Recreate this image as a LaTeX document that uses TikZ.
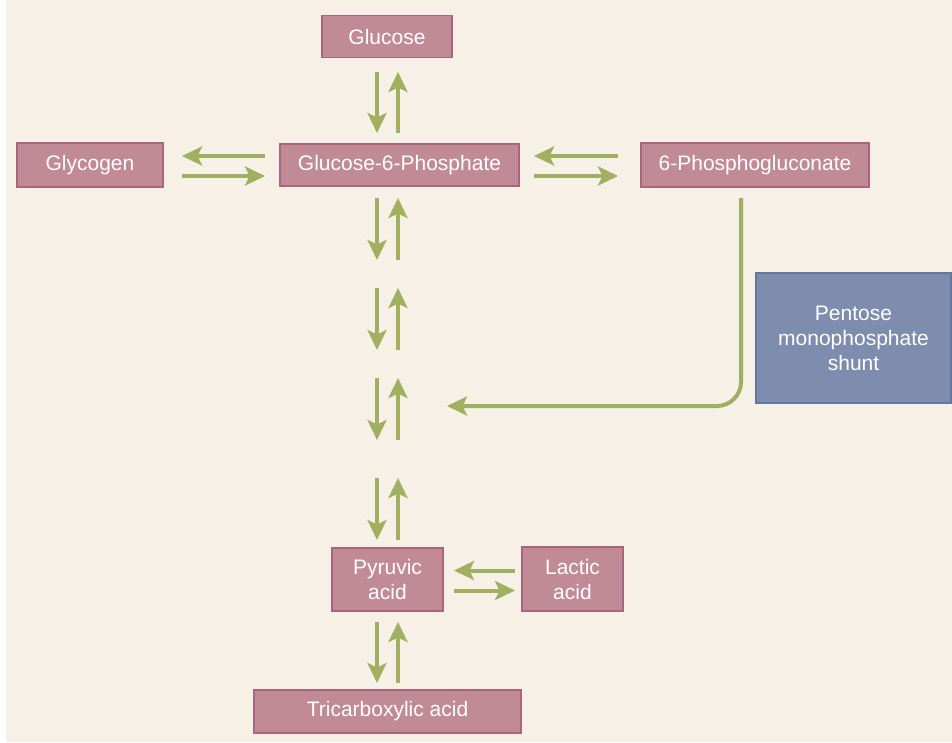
\documentclass[tikz,border=0pt]{standalone}
\usepackage{fontspec}
\setmainfont{Liberation Sans}
\usepackage{tikz}
\usetikzlibrary{arrows.meta, positioning, calc}
\definecolor{paper}{RGB}{246, 240, 230}
\definecolor{boxfill}{RGB}{192, 139, 151}
\definecolor{boxline}{RGB}{172, 100, 124}
\definecolor{shuntfill}{RGB}{126, 141, 173}
\definecolor{shuntline}{RGB}{98, 118, 158}
\definecolor{flowgreen}{RGB}{161, 175, 96}

% pair of opposite arrows, top/bottom and left/right
\newcommand{\vpair}[2]{%
  \draw[flow] ([xshift=-10.5pt]#1) -- ([xshift=-10.5pt]#2);
  \draw[flow] ([xshift=10.5pt]#2) -- ([xshift=10.5pt]#1);}
\newcommand{\hpair}[2]{%
  \draw[flow] ([yshift=10pt]#2) -- ([yshift=10pt]#1);
  \draw[flow] ([yshift=-10pt]#1) -- ([yshift=-10pt]#2);}

\begin{document}
\begin{tikzpicture}[
    x=1pt, y=-1pt,
    box/.style={rectangle, draw=boxline, fill=boxfill, line width=1.5pt, text=white, minimum height=42pt, inner sep=0pt, align=center, font=\fontsize{21}{25}\selectfont},
    shuntbox/.style={box, draw=shuntline, fill=shuntfill, minimum width=195pt, minimum height=130pt},
    flow/.style={draw=flowgreen, line width=4pt, -{Stealth[length=20pt, width=19pt, inset=4.5pt]}}
]
\useasboundingbox (0,0) rectangle (952,742);
\fill[white] (0,0) rectangle (952,742);
\fill[paper] (6,0) rectangle (952,742);

% Boxes
\node[box, minimum width=130pt] (glucose) at (387,36.5) {Glucose};
\node[box, minimum width=239pt] (g6p) at (399.5,165) {Glucose-6-Phosphate};
\node[box, minimum width=146pt, minimum height=44pt] (glycogen) at (90,165) {Glycogen};
\node[box, minimum width=228pt, minimum height=44pt] (pgluc) at (755,165) {6-Phosphogluconate};
\node[shuntbox] (shunt) at (853.5,338) {Pentose\\monophosphate\\shunt};
\node[box, minimum width=111pt, minimum height=63pt] (pyruvic) at (387.5,579.5) {Pyruvic\\acid};
\node[box, minimum width=101pt, minimum height=64pt] (lactic) at (572.5,579) {Lactic\\acid};
\node[box, minimum width=267pt, minimum height=43pt] (tca) at (387.5,711.5) {Tricarboxylic acid};

% Arrow ends
\coordinate (gl-a) at (387.5,72);
\coordinate (gl-b) at (387.5,133);
\coordinate (st1-a) at (387.5,198);
\coordinate (st1-b) at (387.5,260);
\coordinate (st2-a) at (387.5,288);
\coordinate (st2-b) at (387.5,350);
\coordinate (st3-a) at (387.5,378);
\coordinate (st3-b) at (387.5,440);
\coordinate (st4-a) at (387.5,478);
\coordinate (st4-b) at (387.5,540);
\coordinate (tc-a) at (387.5,622);
\coordinate (tc-b) at (387.5,683);
\coordinate (gy-a) at (182,166);
\coordinate (gy-b) at (265,166);
\coordinate (pg-a) at (534,166);
\coordinate (pg-b) at (618,166);
\coordinate (la-a) at (454,580.5);
\coordinate (la-b) at (515,580.5);
\coordinate (sh-a) at (741,198);
\coordinate (sh-b) at (447,406);

% Arrows
\vpair{gl-a}{gl-b}
\vpair{st1-a}{st1-b}
\vpair{st2-a}{st2-b}
\vpair{st3-a}{st3-b}
\vpair{st4-a}{st4-b}
\vpair{tc-a}{tc-b}
\hpair{gy-a}{gy-b}
\hpair{pg-a}{pg-b}
\hpair{la-a}{la-b}
\draw[flow, rounded corners=24pt] (sh-a) |- (sh-b);

\end{tikzpicture}
\end{document}
